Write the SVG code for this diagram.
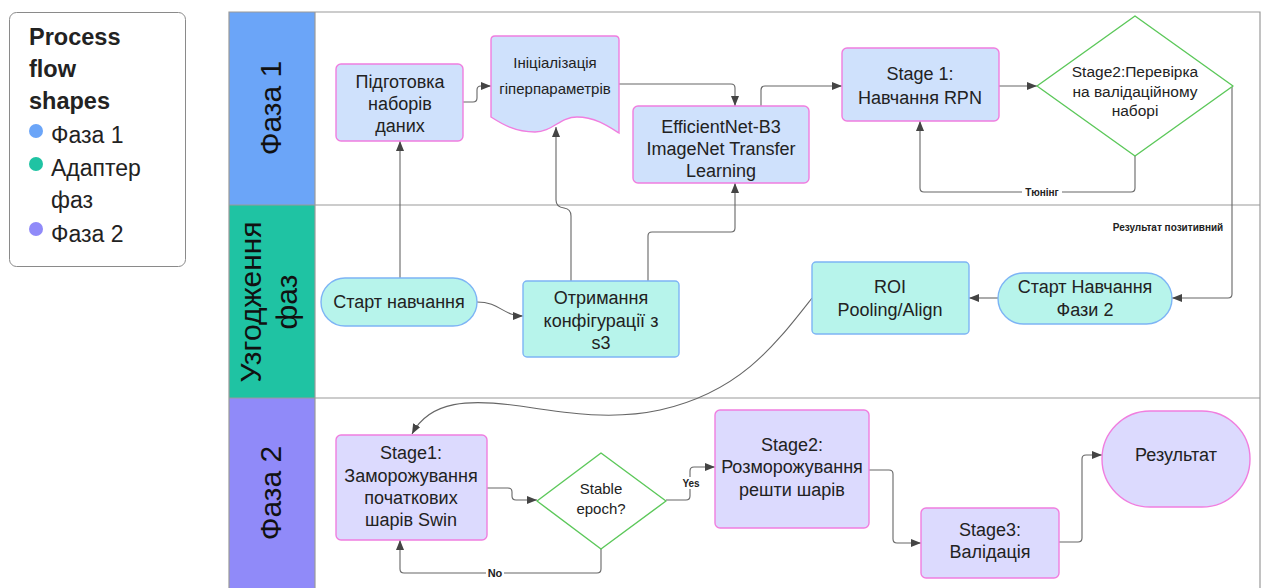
<svg xmlns="http://www.w3.org/2000/svg" width="1265" height="588" viewBox="0 0 1265 588">
  <style>
    text { font-family: "Liberation Sans", Arial, sans-serif; fill: #222; }
    .t18 { font-size: 18px; text-anchor: middle; }
    .t15 { font-size: 15px; text-anchor: middle; }
    .lane-title { font-size: 30px; text-anchor: middle; fill: #111; }
    .edge-label { font-size: 10px; font-weight: bold; text-anchor: middle; }
    .legend { font-size: 23px; }
    .legend-title { font-size: 23.5px; font-weight: bold; }
    .p1 { fill: #cfe1fc; stroke: #f07edf; stroke-width: 1.4; }
    .p2 { fill: #b7f4eb; stroke: #7db4f5; stroke-width: 1.4; }
    .p3 { fill: #dcdafe; stroke: #f07edf; stroke-width: 1.4; }
    .dec { fill: #ffffff; stroke: #5cc85a; stroke-width: 1.4; }
    .lane-line { stroke: #9a9a9a; stroke-width: 1.2; fill: none; }
    .conn { fill: none; stroke: #666; stroke-width: 1.1; marker-end: url(#arrow); }
  </style>
  <defs>
    <marker id="arrow" markerUnits="userSpaceOnUse" markerWidth="10" markerHeight="8" refX="10" refY="4" orient="auto">
      <path d="M0,0 L10,4 L0,8 Z" fill="#444"/>
    </marker>
  </defs>

  <rect x="0" y="0" width="1265" height="588" fill="#ffffff"/>

  <!-- Legend -->
  <g id="legend">
    <rect x="9.5" y="12.5" width="176" height="254" rx="7" fill="#fff" stroke="#8a8a8a" stroke-width="1"/>
    <text class="legend-title" x="29" y="45">Process</text>
    <text class="legend-title" x="29" y="77">flow</text>
    <text class="legend-title" x="29" y="109">shapes</text>
    <circle cx="36" cy="131" r="7" fill="#6ba5f8"/>
    <text class="legend" x="51" y="143">Фаза 1</text>
    <circle cx="36" cy="164" r="7" fill="#1fc3a3"/>
    <text class="legend" x="51" y="176">Адаптер</text>
    <text class="legend" x="51" y="208">фаз</text>
    <circle cx="36" cy="229" r="7" fill="#908af9"/>
    <text class="legend" x="51" y="242">Фаза 2</text>
  </g>

  <!-- Swimlanes -->
  <g id="lanes">
    <rect x="229" y="12" width="86" height="193" fill="#6ba5f8"/>
    <rect x="229" y="205" width="86" height="193" fill="#1fc3a3"/>
    <rect x="229" y="398" width="86" height="190" fill="#908af9"/>
    <path class="lane-line" d="M229,588 V12 H1260 V588"/>
    <path class="lane-line" d="M315,12 V588"/>
    <path class="lane-line" d="M229,205 H1260 M229,398 H1260"/>
    <text class="lane-title" transform="translate(281,108) rotate(-90)">Фаза 1</text>
    <text class="lane-title" transform="translate(261,302) rotate(-90)">Узгодження</text>
    <text class="lane-title" transform="translate(297,302) rotate(-90)">фаз</text>
    <text class="lane-title" transform="translate(281,493) rotate(-90)">Фаза 2</text>
  </g>

  <!-- Connectors -->
  <g id="connectors">
    <path class="conn" d="M463,102 H473 Q477,102 477,98 V90 Q477,86 481,86 H491"/>
    <path class="conn" d="M619,84 H731 Q735,84 735,88 V106"/>
    <path class="conn" d="M761,106 V90 Q761,86 765,86 H842"/>
    <path class="conn" d="M999,86 H1037"/>
    <path class="conn" d="M1135,156 V188 Q1135,192 1131,192 H924 Q920,192 920,188 V121"/>
    <path class="conn" d="M1232,86 V294 Q1232,298 1228,298 H1172"/>
    <path class="conn" d="M998,298 H969"/>
    <path class="conn" d="M812,298 C775,345 740,392 660,410 C610,421 560,412 520,406 C470,399 430,400 412,434"/>
    <path class="conn" d="M400,278 V141"/>
    <path class="conn" d="M571,281 V216 Q571,209 564,208 Q556,207 556,200 V127"/>
    <path class="conn" d="M648,281 V236 Q648,232 652,232 H731 Q735,232 735,228 V183"/>
    <path class="conn" d="M477,302 C500,302 503,316 523,316"/>
    <path class="conn" d="M487,488 H508 Q512,488 512,492 V496 Q512,500 516,500 H537"/>
    <path class="conn" d="M666,500 H686 Q690,500 690,496 V471 Q690,467 694,467 H715"/>
    <path class="conn" d="M601,549 V569 Q601,573 597,573 H404 Q400,573 400,569 V540"/>
    <path class="conn" d="M869,470 H889 Q893,470 893,474 V539 Q893,543 897,543 H921"/>
    <path class="conn" d="M1059,542 H1078 Q1082,542 1082,538 V459 Q1082,455 1086,455 H1102"/>

    <rect x="1022" y="186" width="40" height="12" fill="#fff"/>
    <text class="edge-label" x="1042" y="196">Тюнінг</text>
    <text class="edge-label" x="1168" y="231">Результат позитивний</text>
    <rect x="684" y="477" width="14" height="12" fill="#fff"/>
    <text class="edge-label" x="691" y="487">Yes</text>
    <rect x="486" y="567" width="18" height="12" fill="#fff"/>
    <text class="edge-label" x="495" y="577" style="font-size:11px">No</text>
  </g>

  <!-- Phase 1 nodes -->
  <g id="prep-data">
    <rect class="p1" x="336" y="64" width="127" height="77" rx="5"/>
    <text class="t18" x="400" y="88">Підготовка</text>
    <text class="t18" x="400" y="110">наборів</text>
    <text class="t18" x="400" y="132">даних</text>
  </g>
  <g id="init-hyperparams">
    <path class="p1" d="M495,36 H615 Q619,36 619,40 V133 C608,126 595,117 577,117 C560,117 552,132 535,132 C515,132 502,124 491,117 V40 Q491,36 495,36 Z"/>
    <text class="t15" x="555" y="68">Ініціалізація</text>
    <text class="t15" x="555" y="94">гіперпараметрів</text>
  </g>
  <g id="efficientnet">
    <rect class="p1" x="633" y="106" width="176" height="77" rx="5"/>
    <text class="t18" x="721" y="133">EfficientNet-B3</text>
    <text class="t18" x="721" y="155">ImageNet Transfer</text>
    <text class="t18" x="721" y="177">Learning</text>
  </g>
  <g id="stage1-rpn">
    <rect class="p1" x="842" y="48" width="157" height="73" rx="5"/>
    <text class="t18" x="920" y="80">Stage 1:</text>
    <text class="t18" x="920" y="104">Навчання RPN</text>
  </g>
  <g id="stage2-check">
    <path class="dec" d="M1135,16 L1233,86 L1135,156 L1037,86 Z" stroke-linejoin="round"/>
    <text class="t15" x="1135" y="77" style="font-size:15.5px">Stage2:Перевірка</text>
    <text class="t15" x="1135" y="97" style="font-size:15.5px">на валідаційному</text>
    <text class="t15" x="1135" y="116" style="font-size:15.5px">наборі</text>
  </g>

  <!-- Phase alignment nodes -->
  <g id="start-training">
    <rect class="p2" x="321" y="278" width="156" height="48" rx="24"/>
    <text class="t18" x="399" y="308">Старт навчання</text>
  </g>
  <g id="get-config">
    <rect class="p2" x="523" y="281" width="156" height="76" rx="4"/>
    <text class="t18" x="601" y="304">Отримання</text>
    <text class="t18" x="601" y="327">конфігурації з</text>
    <text class="t18" x="601" y="349">s3</text>
  </g>
  <g id="roi">
    <rect class="p2" x="812" y="262" width="157" height="72" rx="4"/>
    <text class="t18" x="890" y="293">ROI</text>
    <text class="t18" x="890" y="316">Pooling/Align</text>
  </g>
  <g id="start-phase2">
    <rect class="p2" x="998" y="273" width="174" height="51" rx="25.5"/>
    <text class="t18" x="1085" y="293">Старт Навчання</text>
    <text class="t18" x="1085" y="316">Фази 2</text>
  </g>

  <!-- Phase 2 nodes -->
  <g id="stage1-freeze">
    <rect class="p3" x="336" y="435" width="151" height="105" rx="5"/>
    <text class="t18" x="411" y="459">Stage1:</text>
    <text class="t18" x="411" y="482">Заморожування</text>
    <text class="t18" x="411" y="504">початкових</text>
    <text class="t18" x="411" y="526">шарів Swin</text>
  </g>
  <g id="stable-epoch">
    <path class="dec" d="M601,453 L666,501 L601,549 L537,501 Z" stroke-linejoin="round"/>
    <text class="t15" x="601" y="494">Stable</text>
    <text class="t15" x="601" y="514">epoch?</text>
  </g>
  <g id="stage2-unfreeze">
    <rect class="p3" x="715" y="410" width="154" height="118" rx="5"/>
    <text class="t18" x="792" y="451">Stage2:</text>
    <text class="t18" x="792" y="473">Розморожування</text>
    <text class="t18" x="792" y="496">решти шарів</text>
  </g>
  <g id="stage3-validation">
    <rect class="p3" x="921" y="508" width="138" height="70" rx="5"/>
    <text class="t18" x="990" y="536">Stage3:</text>
    <text class="t18" x="990" y="558">Валідація</text>
  </g>
  <g id="result">
    <rect class="p3" x="1102" y="411" width="148" height="96" rx="48"/>
    <text class="t18" x="1176" y="461">Результат</text>
  </g>
</svg>
